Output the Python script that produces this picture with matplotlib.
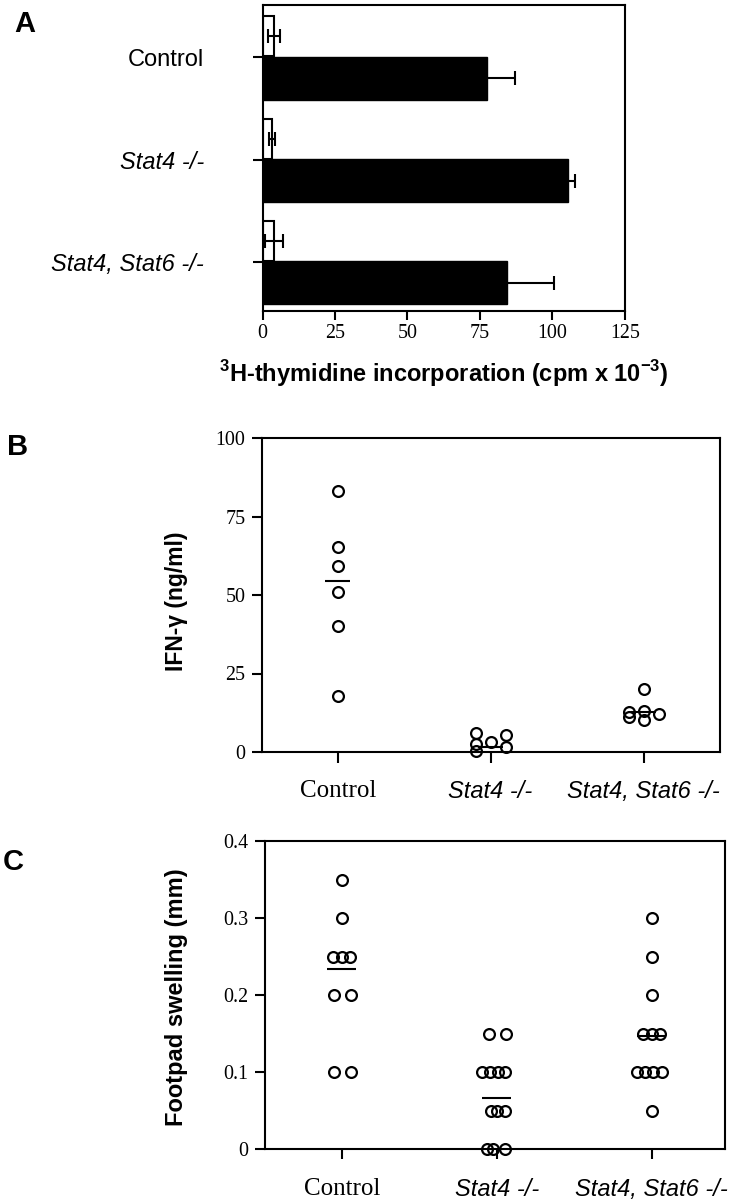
import matplotlib
matplotlib.use('Agg')
import matplotlib.pyplot as plt
import numpy as np
from matplotlib.transforms import ScaledTranslation

plt.rcParams['mathtext.fontset'] = 'custom'
plt.rcParams['mathtext.rm'] = 'Liberation Sans'
plt.rcParams['mathtext.bf'] = 'Liberation Sans:bold'

SANS = 'Liberation Sans'
SERIF = 'Liberation Serif'

# ---------------- data ----------------
groups = ['Control', 'Stat4 -/-', 'Stat4, Stat6 -/-']

# Panel A: 3H-thymidine incorporation (cpm x 10^-3)
a_open_vals = [4.0, 3.3, 4.0]
a_open_err = [2.0, 1.0, 3.0]
a_filled_vals = [77.5, 105.5, 84.2]
a_filled_err = [9.5, 2.3, 16.3]
a_xticks = [0, 25, 50, 75, 100, 125]

# Panel B: IFN-gamma (ng/ml)
b_ctrl = [83.2, 65.4, 59.2, 51.0, 40.2, 17.8]
b_ctrl_slot = [0, 0, 0, 0, 0, 0]
b_stat4 = [5.9, 2.7, 0.4, 3.3, 5.4, 1.5]
b_stat4_slot = [-1, -1, -1, 0, 1, 1]
b_s46 = [20.0, 12.6, 11.0, 13.0, 10.2, 12.0]
b_s46_slot = [0, -1, -1, 0, 0, 1]
b_means = [54.5, 1.7, 12.6]
b_yticks = [0, 25, 50, 75, 100]

# Panel C: Footpad swelling (mm)
c_ctrl = [0.35, 0.30, 0.25, 0.25, 0.25, 0.20, 0.20, 0.10, 0.10]
c_ctrl_slot = [0, 0, -1, 0, 1, -0.9, 1.1, -0.9, 1.1]
c_stat4 = [0.15, 0.15, 0.10, 0.10, 0.10, 0.10, 0.05, 0.05, 0.05, 0.0, 0.0, 0.0]
c_stat4_slot = [-0.9, 1.1, -1.8, -0.8, 0.2, 1.0, -0.7, 0.0, 1.05, -1.2, -0.5, 1.0]
c_s46 = [0.30, 0.25, 0.20, 0.15, 0.15, 0.15, 0.10, 0.10, 0.10, 0.10, 0.05]
c_s46_slot = [0, 0, 0, -1, 0, 1, -1.8, -0.8, 0.2, 1.2, 0]
c_means = [0.234, 0.066, 0.147]
c_yticks = [0, 0.1, 0.2, 0.3, 0.4]
c_yticklabels = ['0', '0.1', '0.2', '0.3', '0.4']

# ---------------- figure ----------------
W, H = 736, 1200
fig = plt.figure(figsize=(W / 100, H / 100), dpi=100)


def px_axes(l, t, r, b):
    return fig.add_axes([l / W, 1 - b / H, (r - l) / W, (b - t) / H])


def style_spines(ax):
    for s in ax.spines.values():
        s.set_linewidth(1.5)
        s.set_color('black')


def cat_labels(ax, axis):
    labs = ax.get_xticklabels() if axis == 'x' else ax.get_yticklabels()
    for i, lab in enumerate(labs):
        lab.set_fontsize(17)
        if i == 0 and axis == 'x':
            lab.set_family(SERIF)
            lab.set_fontsize(18)
        else:
            lab.set_family(SANS)
        if i > 0:
            lab.set_style('italic')


# ---- Panel A ----
axA = px_axes(262.5, 5, 625, 311)
ypos = np.arange(len(groups))
ekw = dict(ecolor='black', elinewidth=1.5, capsize=5, capthick=1.5)
axA.barh(ypos - 0.205, a_open_vals, height=0.39, color='white',
         edgecolor='black', linewidth=1.5, xerr=a_open_err, error_kw=ekw)
axA.barh(ypos + 0.205, a_filled_vals, height=0.42, color='black',
         edgecolor='black', linewidth=1.0, xerr=a_filled_err, error_kw=ekw)
axA.set_xlim(0, 125)
axA.set_ylim(2.48, -0.51)
axA.set_xticks(a_xticks)
axA.set_xticklabels([str(v) for v in a_xticks], family=SERIF, fontsize=14.4)
axA.set_yticks(ypos)
axA.set_yticklabels(groups)
cat_labels(axA, 'y')
for lab in axA.get_yticklabels():
    lab.set_transform(lab.get_transform() +
                      ScaledTranslation(0, -5 / 100, fig.dpi_scale_trans))
axA.tick_params(axis='y', length=7, width=1.5, pad=35)
axA.tick_params(axis='x', length=6.5, width=1.5, pad=3)
style_spines(axA)
axA.set_xlabel(r'$^{\mathbf{3}}$H-thymidine incorporation (cpm x 10$^{\mathbf{-3}}$)',
               fontsize=17, fontweight='bold', family=SANS)
axA.xaxis.set_label_coords(0.5, -(374 - 311) / 306)
axA.xaxis.label.set_va('center')

MK = dict(marker='o', ms=7.8, mfc='none', mec='black', mew=1.6,
          ls='none', clip_on=False)

# ---- Panel B ----
axB = px_axes(262, 438, 720, 752)
B_SLOT = 0.098
for i, (vals, slots) in enumerate([(b_ctrl, b_ctrl_slot),
                                   (b_stat4, b_stat4_slot),
                                   (b_s46, b_s46_slot)]):
    axB.plot(i + np.array(slots) * B_SLOT, vals, **MK)
axB.hlines(b_means, ypos - 0.08, ypos + 0.08, color='black', lw=1.5)
axB.set_xlim(-0.495, 2.5)
axB.set_ylim(0, 100)
axB.set_yticks(b_yticks)
axB.set_yticklabels([str(v) for v in b_yticks], family=SERIF, fontsize=14.4)
axB.set_xticks(ypos)
axB.set_xticklabels(groups)
cat_labels(axB, 'x')
axB.tick_params(axis='x', length=8, width=1.5, pad=12)
axB.tick_params(axis='y', length=7, width=1.5, pad=5)
style_spines(axB)
axB.set_ylabel('IFN-γ (ng/ml)', fontsize=16.5, fontweight='bold', family=SANS)
axB.yaxis.set_label_coords((188 - 262) / 458, 0.479)

# ---- Panel C ----
axC = px_axes(265, 841, 725, 1149)
C_SLOT = 0.0535
for i, (vals, slots) in enumerate([(c_ctrl, c_ctrl_slot),
                                   (c_stat4, c_stat4_slot),
                                   (c_s46, c_s46_slot)]):
    axC.plot(i + np.array(slots) * C_SLOT, vals, **MK)
axC.hlines(c_means, ypos - 0.095, ypos + 0.095, color='black', lw=1.5)
axC.set_xlim(-0.495, 2.473)
axC.set_ylim(0, 0.4)
axC.set_yticks(c_yticks)
axC.set_yticklabels(c_yticklabels, family=SERIF, fontsize=14.4)
axC.set_xticks(ypos)
axC.set_xticklabels(groups)
cat_labels(axC, 'x')
axC.tick_params(axis='x', length=7, width=1.5, pad=14)
axC.tick_params(axis='y', length=7, width=1.5, pad=5)
style_spines(axC)
axC.set_ylabel('Footpad swelling (mm)', fontsize=17, fontweight='bold', family=SANS)
axC.yaxis.set_label_coords((188 - 265) / 460, 0.492)

# ---- panel letters ----
for letter, x, y in [('A', 24.5, 24), ('B', 18, 447), ('C', 13, 862)]:
    fig.text(x / W, 1 - y / H, letter, fontsize=21, fontweight='bold',
             family=SANS, ha='center', va='center')

fig.savefig('out.png', dpi=100)
